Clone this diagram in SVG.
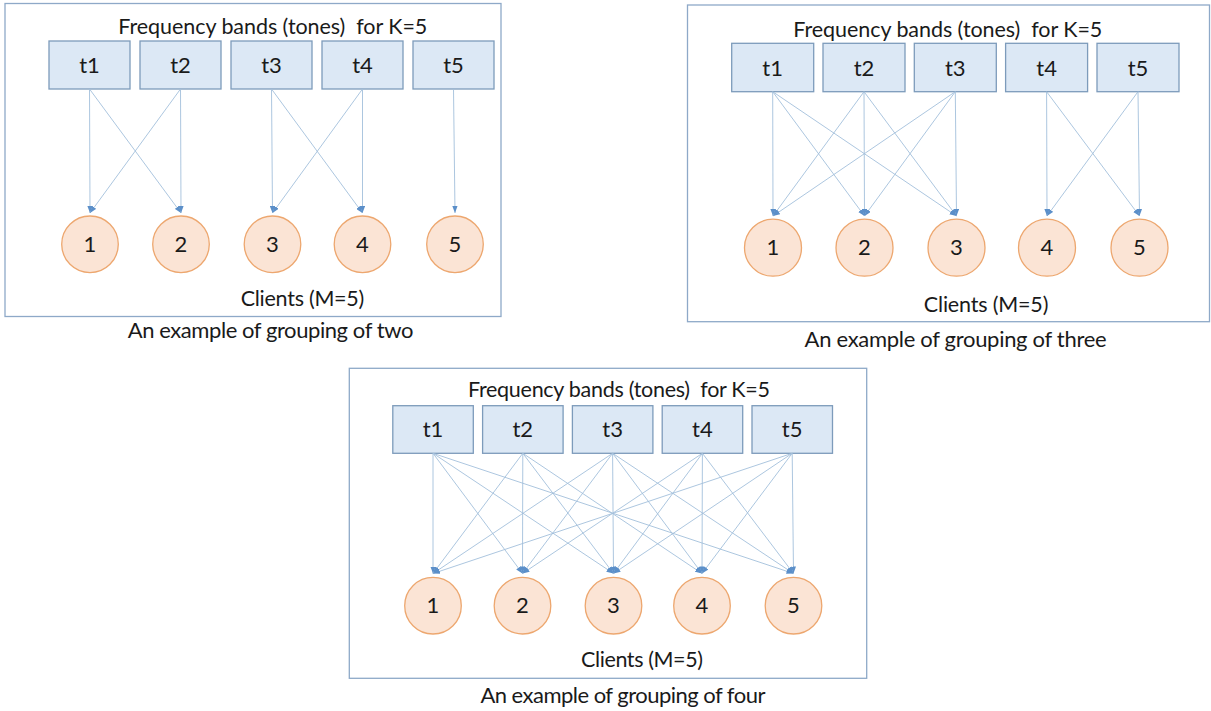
<svg xmlns="http://www.w3.org/2000/svg" width="1211" height="711" viewBox="0 0 1211 711">
<defs>
<marker id="ah" viewBox="0 0 8 6" refX="8" refY="3" markerWidth="7" markerHeight="5.5" markerUnits="userSpaceOnUse" orient="auto">
<path d="M0,0 L8,3 L0,6 z" fill="#5b8fc9"/>
</marker>
</defs>
<style>
.frame{fill:#ffffff;stroke:#8ea9c8;stroke-width:1.3}
.box{fill:#dce8f5;stroke:#7d9bbb;stroke-width:1.3}
.cir{fill:#fbe4d5;stroke:#eda76f;stroke-width:1.3}
.lbl{font-family:Lato,"Liberation Sans",sans-serif;font-size:22px;fill:#1a1a1a;text-anchor:middle}
.txt{font-family:Lato,"Liberation Sans",sans-serif;font-size:21.5px;fill:#1a1a1a}
.cap{font-family:Lato,"Liberation Sans",sans-serif;font-size:22px;fill:#1a1a1a}
.conn line{stroke:#a3bfdb;stroke-width:0.9;fill:none;marker-end:url(#ah)}
</style>
<rect width="1211" height="711" fill="#ffffff"/>

<!-- Panel 1: grouping of two -->
<g id="panel1">
<rect class="frame" x="5" y="3.5" width="496" height="313"/>
<text class="txt" x="118.3" y="33.5" textLength="309">Frequency bands (tones)&#160; for K=5</text>
<g id="p1-t1"><rect class="box" x="49" y="41" width="81" height="48"/><text class="lbl" x="89.5" y="72.8">t1</text></g>
<g id="p1-t2"><rect class="box" x="140" y="41" width="81" height="48"/><text class="lbl" x="180.5" y="72.8">t2</text></g>
<g id="p1-t3"><rect class="box" x="231" y="41" width="81" height="48"/><text class="lbl" x="271.5" y="72.8">t3</text></g>
<g id="p1-t4"><rect class="box" x="322" y="41" width="81" height="48"/><text class="lbl" x="362.5" y="72.8">t4</text></g>
<g id="p1-t5"><rect class="box" x="413" y="41" width="81" height="48"/><text class="lbl" x="453.5" y="72.8">t5</text></g>
<g id="p1-c1"><circle class="cir" cx="90" cy="244.3" r="28.3"/><text class="lbl" x="90" y="252">1</text></g>
<g id="p1-c2"><circle class="cir" cx="181" cy="244.3" r="28.3"/><text class="lbl" x="181" y="252">2</text></g>
<g id="p1-c3"><circle class="cir" cx="272.5" cy="244.3" r="28.3"/><text class="lbl" x="272.5" y="252">3</text></g>
<g id="p1-c4"><circle class="cir" cx="362.5" cy="244.3" r="28.3"/><text class="lbl" x="362.5" y="252">4</text></g>
<g id="p1-c5"><circle class="cir" cx="455" cy="244.3" r="28.3"/><text class="lbl" x="455" y="252">5</text></g>
<text class="txt" x="240.7" y="306" textLength="123.6">Clients (M=5)</text>
<text class="cap" x="127.7" y="338.3" textLength="285.7">An example of grouping of two</text>
</g>
<g id="p1-connectors" class="conn">
<line x1="89.5" y1="89" x2="90" y2="213"/>
<line x1="89.5" y1="89" x2="181" y2="213"/>
<line x1="180.5" y1="89" x2="90" y2="213"/>
<line x1="180.5" y1="89" x2="181" y2="213"/>
<line x1="271.5" y1="89" x2="272.5" y2="213"/>
<line x1="271.5" y1="89" x2="362.5" y2="213"/>
<line x1="362.5" y1="89" x2="272.5" y2="213"/>
<line x1="362.5" y1="89" x2="362.5" y2="213"/>
<line x1="453.5" y1="89" x2="455" y2="213"/>
</g>

<!-- Panel 2: grouping of three -->
<g id="panel2">
<rect class="frame" x="687.5" y="5" width="522" height="316.7"/>
<text class="txt" x="793.3" y="36.7" textLength="309">Frequency bands (tones)&#160; for K=5</text>
<g id="p2-t1"><rect class="box" x="731.7" y="43.3" width="82" height="48.4"/><text class="lbl" x="772.7" y="75.5">t1</text></g>
<g id="p2-t2"><rect class="box" x="823" y="43.3" width="82" height="48.4"/><text class="lbl" x="864" y="75.5">t2</text></g>
<g id="p2-t3"><rect class="box" x="914.3" y="43.3" width="82" height="48.4"/><text class="lbl" x="955.3" y="75.5">t3</text></g>
<g id="p2-t4"><rect class="box" x="1005.6" y="43.3" width="82" height="48.4"/><text class="lbl" x="1046.6" y="75.5">t4</text></g>
<g id="p2-t5"><rect class="box" x="1097" y="43.3" width="82" height="48.4"/><text class="lbl" x="1138" y="75.5">t5</text></g>
<g id="p2-c1"><circle class="cir" cx="773" cy="247.7" r="28.5"/><text class="lbl" x="773" y="255.4">1</text></g>
<g id="p2-c2"><circle class="cir" cx="864.5" cy="247.7" r="28.5"/><text class="lbl" x="864.5" y="255.4">2</text></g>
<g id="p2-c3"><circle class="cir" cx="956.5" cy="247.7" r="28.5"/><text class="lbl" x="956.5" y="255.4">3</text></g>
<g id="p2-c4"><circle class="cir" cx="1047" cy="247.7" r="28.5"/><text class="lbl" x="1047" y="255.4">4</text></g>
<g id="p2-c5"><circle class="cir" cx="1139.5" cy="247.7" r="28.5"/><text class="lbl" x="1139.5" y="255.4">5</text></g>
<text class="txt" x="923.8" y="311.7" textLength="124.6">Clients (M=5)</text>
<text class="cap" x="804.6" y="346.7" textLength="302">An example of grouping of three</text>
</g>
<g id="p2-connectors" class="conn">
<line x1="772.7" y1="91.7" x2="773" y2="216"/>
<line x1="772.7" y1="91.7" x2="864.5" y2="216"/>
<line x1="772.7" y1="91.7" x2="956.5" y2="216"/>
<line x1="864" y1="91.7" x2="773" y2="216"/>
<line x1="864" y1="91.7" x2="864.5" y2="216"/>
<line x1="864" y1="91.7" x2="956.5" y2="216"/>
<line x1="955.3" y1="91.7" x2="773" y2="216"/>
<line x1="955.3" y1="91.7" x2="864.5" y2="216"/>
<line x1="955.3" y1="91.7" x2="956.5" y2="216"/>
<line x1="1046.6" y1="91.7" x2="1047" y2="216"/>
<line x1="1046.6" y1="91.7" x2="1139.5" y2="216"/>
<line x1="1138" y1="91.7" x2="1047" y2="216"/>
<line x1="1138" y1="91.7" x2="1139.5" y2="216"/>
</g>

<!-- Panel 3: grouping of four -->
<g id="panel3">
<rect class="frame" x="349.3" y="368.3" width="517.4" height="310"/>
<text class="txt" x="468" y="397.3" textLength="302">Frequency bands (tones)&#160; for K=5</text>
<g id="p3-t1"><rect class="box" x="392.8" y="405.7" width="80.5" height="47.6"/><text class="lbl" x="433" y="437.4">t1</text></g>
<g id="p3-t2"><rect class="box" x="482.6" y="405.7" width="80.5" height="47.6"/><text class="lbl" x="522.8" y="437.4">t2</text></g>
<g id="p3-t3"><rect class="box" x="572.4" y="405.7" width="80.5" height="47.6"/><text class="lbl" x="612.6" y="437.4">t3</text></g>
<g id="p3-t4"><rect class="box" x="662.2" y="405.7" width="80.5" height="47.6"/><text class="lbl" x="702.4" y="437.4">t4</text></g>
<g id="p3-t5"><rect class="box" x="752" y="405.7" width="80.5" height="47.6"/><text class="lbl" x="792.2" y="437.4">t5</text></g>
<g id="p3-c1"><circle class="cir" cx="433" cy="605.7" r="28.3"/><text class="lbl" x="433" y="613.4">1</text></g>
<g id="p3-c2"><circle class="cir" cx="522.5" cy="605.7" r="28.3"/><text class="lbl" x="522.5" y="613.4">2</text></g>
<g id="p3-c3"><circle class="cir" cx="613.5" cy="605.7" r="28.3"/><text class="lbl" x="613.5" y="613.4">3</text></g>
<g id="p3-c4"><circle class="cir" cx="702" cy="605.7" r="28.3"/><text class="lbl" x="702" y="613.4">4</text></g>
<g id="p3-c5"><circle class="cir" cx="793.5" cy="605.7" r="28.3"/><text class="lbl" x="793.5" y="613.4">5</text></g>
<text class="txt" x="581" y="666.7" textLength="122">Clients (M=5)</text>
<text class="cap" x="480.4" y="703.3" textLength="285">An example of grouping of four</text>
</g>
<g id="p3-connectors" class="conn">
<line x1="433" y1="453.3" x2="433" y2="573.5"/>
<line x1="433" y1="453.3" x2="522.5" y2="573.5"/>
<line x1="433" y1="453.3" x2="613.5" y2="573.5"/>
<line x1="433" y1="453.3" x2="793.5" y2="573.5"/>
<line x1="522.8" y1="453.3" x2="433" y2="573.5"/>
<line x1="522.8" y1="453.3" x2="522.5" y2="573.5"/>
<line x1="522.8" y1="453.3" x2="613.5" y2="573.5"/>
<line x1="522.8" y1="453.3" x2="702" y2="573.5"/>
<line x1="612.6" y1="453.3" x2="433" y2="573.5"/>
<line x1="612.6" y1="453.3" x2="522.5" y2="573.5"/>
<line x1="612.6" y1="453.3" x2="613.5" y2="573.5"/>
<line x1="612.6" y1="453.3" x2="702" y2="573.5"/>
<line x1="612.6" y1="453.3" x2="793.5" y2="573.5"/>
<line x1="702.4" y1="453.3" x2="522.5" y2="573.5"/>
<line x1="702.4" y1="453.3" x2="613.5" y2="573.5"/>
<line x1="702.4" y1="453.3" x2="702" y2="573.5"/>
<line x1="702.4" y1="453.3" x2="793.5" y2="573.5"/>
<line x1="792.2" y1="453.3" x2="433" y2="573.5"/>
<line x1="792.2" y1="453.3" x2="613.5" y2="573.5"/>
<line x1="792.2" y1="453.3" x2="702" y2="573.5"/>
<line x1="792.2" y1="453.3" x2="793.5" y2="573.5"/>
</g>
</svg>
